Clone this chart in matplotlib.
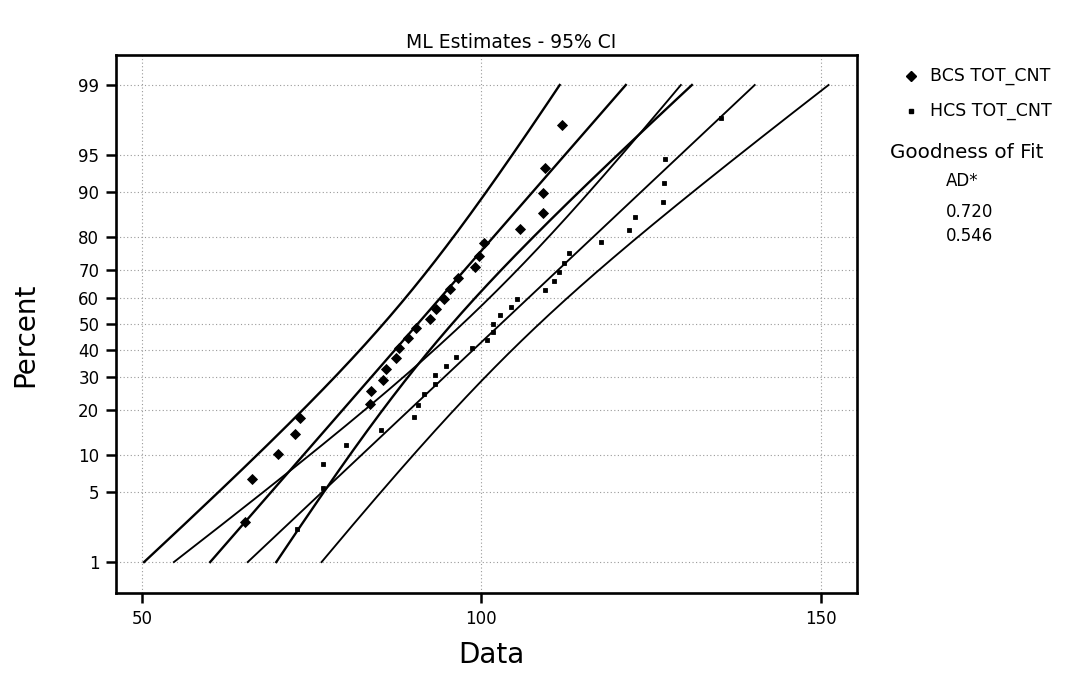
import numpy as np
import matplotlib
matplotlib.use("Agg")
import matplotlib.pyplot as plt
from matplotlib.lines import Line2D
from statistics import NormalDist

# TOT_CNT observations for the two groups (sorted)
bcs_tot_cnt = [65.2, 66.2, 70.0, 72.6, 73.3, 83.6, 83.8, 85.5, 85.9, 87.4,
               87.8, 89.2, 90.4, 92.4, 93.3, 94.5, 95.4, 96.6, 99.1, 99.6,
               100.4, 105.7, 109.0, 109.0, 109.4, 111.9]
hcs_tot_cnt = [72.9, 76.7, 76.7, 80.0, 85.2, 90.1, 90.6, 91.6, 93.1, 93.1,
               94.8, 96.3, 98.6, 100.8, 101.7, 101.7, 102.7, 104.3, 105.2, 109.3,
               110.7, 111.4, 112.2, 112.9, 117.6, 121.7, 122.6, 126.7, 126.9, 127.0,
               135.3]

series_names = ["BCS TOT_CNT", "HCS TOT_CNT"]
ad_values = ["0.720", "0.546"]
percent_ticks = [1, 5, 10, 20, 30, 40, 50, 60, 70, 80, 90, 95, 99]
x_ticks = [50, 100, 150]

_nd = NormalDist()
_inv = np.vectorize(lambda v: _nd.inv_cdf(v), otypes=[float])
_cdf = np.vectorize(lambda v: _nd.cdf(v), otypes=[float])


def pct_to_z(p):
    p = np.clip(np.asarray(p, dtype=float), 1e-6, 100 - 1e-6)
    return _inv(p / 100.0)


def z_to_pct(z):
    return _cdf(np.asarray(z, dtype=float)) * 100.0


def median_ranks(n):
    i = np.arange(1, n + 1)
    return (i - 0.3) / (n + 0.4) * 100.0


def ml_fit_with_ci(data, pct, conf=0.95):
    x = np.asarray(data, dtype=float)
    n = len(x)
    mu = x.mean()
    sigma = x.std(ddof=0)
    z = pct_to_z(pct)
    xp = mu + z * sigma
    se = sigma * np.sqrt(1.0 / n + z ** 2 / (2.0 * n))
    k = _nd.inv_cdf(0.5 + conf / 2.0)
    return xp, xp - k * se, xp + k * se


W, H = 1067, 673
fig = plt.figure(figsize=(W / 100, H / 100), dpi=100)
ax = fig.add_axes([116 / W, 1 - 593 / H, 741 / W, 538 / H])
ax.set_yscale("function", functions=(pct_to_z, z_to_pct))

pct_line = np.linspace(1, 99, 200)
styles = [dict(marker="D", ms=4.6, lw=1.7), dict(marker="s", ms=2.6, lw=1.35)]

for data, st in zip([bcs_tot_cnt, hcs_tot_cnt], styles):
    xp, lo, hi = ml_fit_with_ci(data, pct_line)
    for line in (lo, xp, hi):
        ax.plot(line, pct_line, color="black", lw=st["lw"], zorder=3)
    ax.plot(np.sort(data), median_ranks(len(data)), linestyle="none",
            marker=st["marker"], ms=st["ms"], color="black",
            markeredgewidth=0.6, zorder=4)

ax.set_xlim(46.2, 155.3)
ax.set_ylim(float(z_to_pct(-2.628)), float(z_to_pct(2.619)))
ax.set_xticks(x_ticks)
ax.set_xticklabels([str(t) for t in x_ticks])
ax.set_yticks(percent_ticks)
ax.set_yticklabels([str(t) for t in percent_ticks])
ax.minorticks_off()

ax.grid(True, color="#9a9a9a", linestyle=(0, (1, 2.2)), linewidth=0.8, zorder=0)
ax.tick_params(axis="both", direction="out", length=7, width=1.8,
               labelsize=12, colors="black", pad=5)
for sp in ax.spines.values():
    sp.set_linewidth(1.9)
    sp.set_color("black")

fig.text(511 / W, 1 - 42 / H, "ML Estimates - 95% CI", ha="center",
         va="center", fontsize=13.5)
fig.text(25 / W, 1 - 335 / H, "Percent", rotation=90, ha="center",
         va="center", fontsize=20)
fig.text(491 / W, 1 - 655 / H, "Data", ha="center", va="center", fontsize=20)

# right-hand key and goodness-of-fit table
key_y = [76, 111]
for name, st, y in zip(series_names, styles, key_y):
    fig.add_artist(Line2D([911 / W], [1 - y / H], marker=st["marker"],
                          ms=st["ms"], color="black", linestyle="none",
                          transform=fig.transFigure))
    fig.text(930 / W, 1 - y / H, name, ha="left", va="center", fontsize=12.5)

fig.text(967 / W, 1 - 152 / H, "Goodness of Fit", ha="center", va="center",
         fontsize=14.3)
fig.text(946 / W, 1 - 181 / H, "AD*", ha="left", va="center", fontsize=12)
for val, y in zip(ad_values, [212, 236]):
    fig.text(946 / W, 1 - y / H, val, ha="left", va="center", fontsize=12)

fig.savefig("out.png", dpi=100, facecolor="white")
